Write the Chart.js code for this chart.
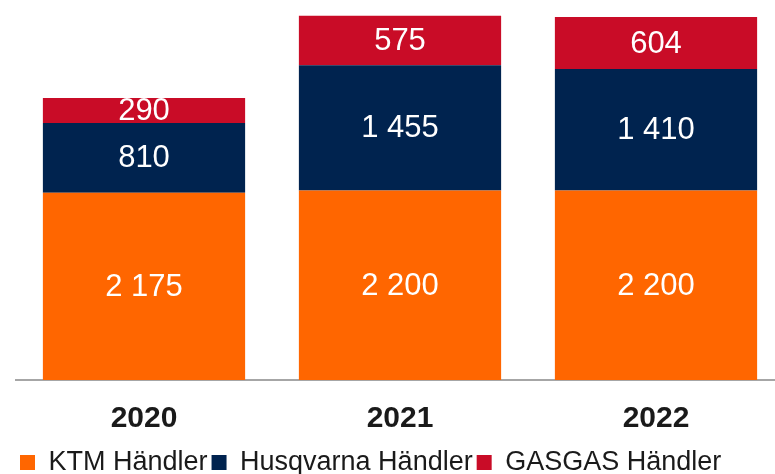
<!DOCTYPE html>
<html>
<head>
<meta charset="utf-8">
<script src="https://cdn.jsdelivr.net/npm/chart.js@4"></script>
<style>
  html, body { margin: 0; padding: 0; background: #fff; overflow: hidden; }
  .wrap { position: relative; width: 784px; height: 486px; }
</style>
</head>
<body>
<div class="wrap"><canvas id="chart"></canvas></div>
<script>
const years = ['2020', '2021', '2022'];
const ktm = [2175, 2200, 2200];
const husqvarna = [810, 1455, 1410];
const gasgas = [290, 575, 604];

const fmt = (v) => v.toString().replace(/\B(?=(\d{3})+(?!\d))/g, ' ');

// white value labels in the middle of each segment
const valueLabels = {
    id: 'valueLabels',
    afterDatasetsDraw(chart) {
        const ctx = chart.ctx;
        ctx.save();
        ctx.fillStyle = '#ffffff';
        ctx.font = '31px "Liberation Sans", Arial, sans-serif';
        ctx.textAlign = 'center';
        ctx.textBaseline = 'middle';
        chart.data.datasets.forEach((ds, i) => {
            chart.getDatasetMeta(i).data.forEach((bar, j) => {
                const midY = (bar.y + bar.base) / 2;
                ctx.fillText(fmt(ds.data[j]), bar.x, midY + 1);
            });
        });
        ctx.restore();
    }
};

const canvas = document.querySelector('#chart');
new Chart(canvas, {
    type: 'bar',
    data: {
        labels: years,
        datasets: [
            { label: 'KTM Händler', data: ktm, backgroundColor: '#FF6600' },
            { label: 'Husqvarna Händler', data: husqvarna, backgroundColor: '#00234F' },
            { label: 'GASGAS Händler', data: gasgas, backgroundColor: '#C90C27' },
        ],
    },
    options: {
        responsive: true,
        maintainAspectRatio: false,
        animation: false,
        layout: { padding: { left: 16, right: 0, top: 0, bottom: 0 } },
        datasets: {
            bar: { barPercentage: 0.79, categoryPercentage: 1, borderWidth: 0 }
        },
        scales: {
            x: {
                stacked: true,
                grid: { display: false, drawTicks: false },
                border: { display: true, color: '#a6a6a6', width: 2 },
                ticks: {
                    color: '#1a1a1a',
                    padding: 21,
                    font: { family: '"Liberation Sans", Arial, sans-serif', size: 30, weight: 'bold' }
                },
                afterFit: (s) => { s.height = 65; }
            },
            y: {
                stacked: true,
                display: false,
                min: 0,
                max: 4412,
            }
        },
        plugins: {
            legend: {
                position: 'bottom',
                align: 'start',
                labels: {
                    boxWidth: 15,
                    boxHeight: 15,
                    padding: 4,
                    color: '#1a1a1a',
                    font: { family: '"Liberation Sans", Arial, sans-serif', size: 27 }
                }
            },
            tooltip: { enabled: false }
        }
    },
    plugins: [valueLabels]
});
</script>
</body>
</html>
